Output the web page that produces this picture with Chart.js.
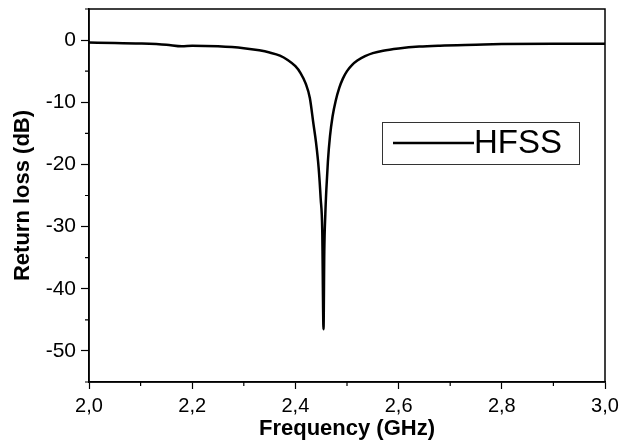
<!DOCTYPE html>
<html>
<head>
<meta charset="utf-8">
<script src="https://cdn.jsdelivr.net/npm/chart.js"></script>
<style>
  html, body { margin: 0; padding: 0; background: #fff; }
  #wrap { width: 621px; height: 445px; }
</style>
</head>
<body>
<div id="wrap"><canvas id="chart" width="621" height="445"></canvas></div>
<script>
// frequency (GHz) and simulated return loss (dB)
const freq = [2.00, 2.05, 2.10, 2.15, 2.18, 2.20, 2.25, 2.30, 2.33, 2.35, 2.37, 2.385, 2.40, 2.41, 2.42,
  2.428, 2.435, 2.44, 2.445, 2.449, 2.452, 2.4545, 2.456, 2.458, 2.460, 2.463, 2.467, 2.472, 2.478,
  2.485, 2.492, 2.50, 2.51, 2.52, 2.535, 2.55, 2.57, 2.60, 2.64, 2.68, 2.75, 2.80, 2.90, 3.00];
const hfss = [-0.4, -0.45, -0.55, -0.75, -1.0, -0.9, -1.0, -1.3, -1.65, -2.0, -2.5, -3.2, -4.2, -5.3, -7.0,
  -9.3, -13.5, -16.5, -20.5, -25.5, -30.5, -46.5, -34, -28, -24, -19.5, -15.5, -12.3, -9.8,
  -7.7, -6.2, -5.0, -4.0, -3.3, -2.6, -2.1, -1.7, -1.35, -1.05, -0.9, -0.75, -0.65, -0.6, -0.6];
const seriesLabel = 'HFSS';
const xTitle = 'Frequency (GHz)';
const yTitle = 'Return loss (dB)';

const FONT = "'Liberation Sans', Arial, sans-serif";

// short ticks between the labelled ones, the box round the plot, and the legend
const frame = {
  id: 'frame',
  afterDraw(chart) {
    const ctx = chart.ctx, a = chart.chartArea;
    const xs = chart.scales.x, ys = chart.scales.y;
    ctx.save();
    ctx.strokeStyle = '#000';
    ctx.lineWidth = 1.5;
    ctx.strokeRect(a.left, a.top, a.right - a.left, a.bottom - a.top);
    ctx.lineWidth = 1.2;
    ctx.beginPath();
    ys.ticks.forEach(t => {
      if (Math.round(t.value) % 10 !== 0) {
        const y = ys.getPixelForValue(t.value);
        ctx.moveTo(a.left - 4, y); ctx.lineTo(a.left, y);
      }
    });
    xs.ticks.forEach(t => {
      if (Math.round(t.value * 10) % 2 !== 0) {
        const x = xs.getPixelForValue(t.value);
        ctx.moveTo(x, a.bottom); ctx.lineTo(x, a.bottom + 4);
      }
    });
    ctx.stroke();

    const ds = chart.data.datasets[0];
    ctx.lineWidth = 1;
    ctx.strokeStyle = '#333';
    ctx.strokeRect(382.5, 122.5, 197, 42);
    ctx.strokeStyle = ds.borderColor;
    ctx.lineWidth = ds.borderWidth;
    ctx.beginPath();
    ctx.moveTo(393, 143); ctx.lineTo(474, 143);
    ctx.stroke();
    ctx.fillStyle = '#000';
    ctx.font = '33px ' + FONT;
    ctx.textBaseline = 'middle';
    ctx.fillText(ds.label, 474, 144);
    ctx.restore();
  }
};

const isMajorY = v => Math.round(v) % 10 === 0;
const isMajorX = v => Math.round(v * 10) % 2 === 0;

new Chart(document.getElementById('chart'), {
  type: 'line',
  data: {
    datasets: [{
      label: seriesLabel,
      data: freq.map((f, i) => ({ x: f, y: hfss[i] })),
      borderColor: '#000',
      borderWidth: 2.5,
      pointRadius: 0,
      fill: false,
      cubicInterpolationMode: 'monotone'
    }]
  },
  options: {
    responsive: false,
    animation: false,
    layout: { padding: { left: 10, right: 16, top: 9, bottom: 3 } },
    plugins: { legend: { display: false }, tooltip: { enabled: false } },
    scales: {
      x: {
        type: 'linear',
        min: 2.0, max: 3.0,
        afterFit(s) { s.height = 60; s.paddingLeft = 0; s.paddingRight = 0; },
        ticks: {
          stepSize: 0.1,
          color: '#000',
          padding: 5,
          font: { family: FONT, size: 20 },
          callback: v => isMajorX(v) ? v.toFixed(1).replace('.', ',') : ''
        },
        grid: {
          drawOnChartArea: false,
          drawTicks: true,
          tickLength: 7,
          tickWidth: 1.2,
          tickColor: c => isMajorX(c.tick.value) ? '#000' : 'rgba(0,0,0,0)'
        },
        border: { color: '#000', width: 1.5 },
        title: {
          display: true, text: xTitle, color: '#000',
          padding: { top: 0, bottom: 0 },
          font: { family: FONT, size: 22, weight: 'bold' }
        }
      },
      y: {
        min: -55, max: 5,
        afterFit(s) { s.width = 79; s.paddingTop = 0; s.paddingBottom = 0; },
        ticks: {
          stepSize: 5,
          color: '#000',
          padding: 5,
          font: { family: FONT, size: 21 },
          callback: v => isMajorY(v) ? String(v) : ''
        },
        grid: {
          drawOnChartArea: false,
          drawTicks: true,
          tickLength: 8,
          tickWidth: 1.2,
          tickColor: c => isMajorY(c.tick.value) ? '#000' : 'rgba(0,0,0,0)'
        },
        border: { color: '#000', width: 1.5 },
        title: {
          display: true, text: yTitle, color: '#000',
          padding: { top: 0, bottom: 0 },
          font: { family: FONT, size: 22, weight: 'bold' }
        }
      }
    }
  },
  plugins: [frame]
});
</script>
</body>
</html>
